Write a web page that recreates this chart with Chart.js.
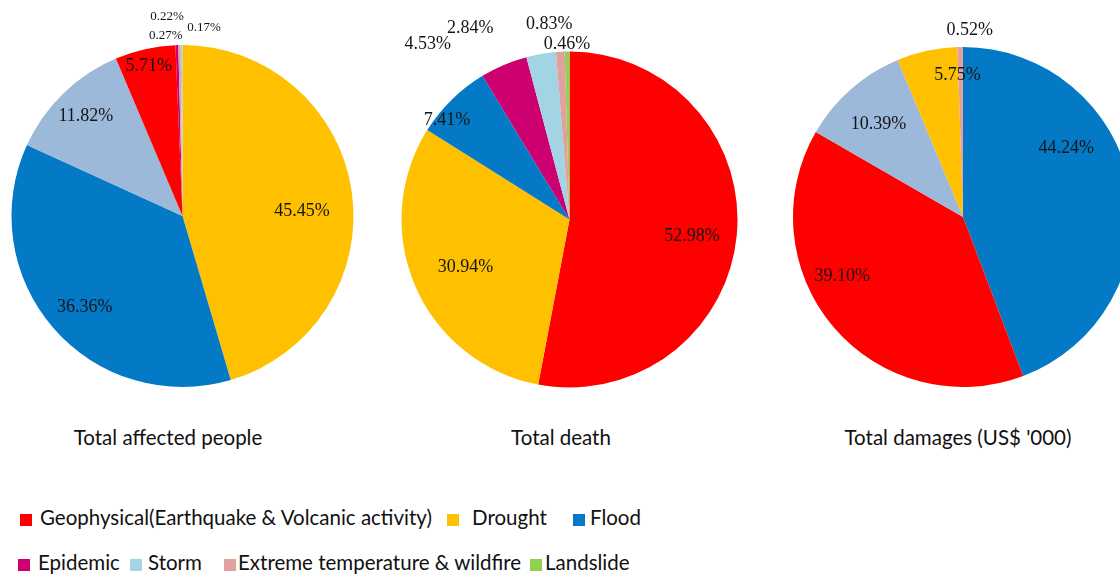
<!DOCTYPE html>
<html>
<head>
<meta charset="utf-8">
<script src="https://cdn.jsdelivr.net/npm/chart.js@4/dist/chart.umd.min.js"></script>
<style>
  html, body { margin: 0; padding: 0; background: #fff; overflow: hidden; }
  body { width: 1120px; height: 579px; position: relative; }
  .pie { position: absolute; top: 0; height: 400px; }
  .title { position: absolute; top: 425px; font: 20.5px Lato, "Open Sans", sans-serif; color: #111; transform: translateX(-50%); white-space: nowrap; }
  .lg { position: absolute; font: 20.5px Lato, "Open Sans", sans-serif; color: #111; white-space: nowrap; }
  .sw { position: absolute; width: 12px; height: 12px; }
</style>
</head>
<body>
<div class="pie" style="left:0;width:380px"><canvas id="pie1"></canvas></div>
<div class="pie" style="left:380px;width:380px"><canvas id="pie2"></canvas></div>
<div class="pie" style="left:760px;width:420px"><canvas id="pie3"></canvas></div>
<div class="title" style="left:168px">Total affected people</div>
<div class="title" style="left:561px">Total death</div>
<div class="title" style="left:958px">Total damages (US$ '000)</div>
<div id="legend"></div>
<script>
// shares (%) clockwise from 12 o'clock
const affectedLabels = ['Drought', 'Flood', 'Storm', 'Geophysical', 'Epidemic', 'Extreme temperature & wildfire', 'Landslide'];
const affectedValues = [45.45, 36.36, 11.82, 5.71, 0.27, 0.22, 0.17];

const deathLabels = ['Geophysical', 'Drought', 'Flood', 'Epidemic', 'Storm', 'Extreme temperature & wildfire', 'Landslide'];
const deathValues = [52.98, 30.94, 7.41, 4.53, 2.84, 0.83, 0.46];

const damageLabels = ['Flood', 'Geophysical', 'Storm', 'Drought', 'Extreme temperature & wildfire'];
const damageValues = [44.24, 39.10, 10.39, 5.75, 0.52];

const legendLabels = ['Geophysical(Earthquake & Volcanic activity)', 'Drought', 'Flood',
  'Epidemic', 'Storm', 'Extreme temperature & wildfire', 'Landslide'];

const RED = '#FF0000', YEL = '#FFC000', BLU = '#0479C6', STEEL = '#9CB9DA',
  MAG = '#CC0070', CYAN = '#A3D4E4', PINK = '#E3A0A0', GRN = '#92D050';

const affectedColors = [YEL, BLU, STEEL, RED, MAG, PINK, CYAN];
const deathColors = [RED, YEL, BLU, MAG, CYAN, PINK, GRN];
const damageColors = [BLU, RED, STEEL, YEL, PINK];
const legendColors = [RED, YEL, BLU, MAG, CYAN, PINK, GRN];

// label placement: [radius fraction, angle shift in degrees] relative to slice middle
const affectedPlace = [[0.70, 6], [0.78, -2], [0.81, 0], [0.9, 0], [1.06, -3.4], [1.17, -3.4], [1.11, 6.8]];
const deathPlace = [[0.735, 2.3], [0.68, -1], [0.94, -6.4], [1.34, -16], [1.28, -17.7], [1.17, -2.8], [1.045, 0]];
const damagePlace = [[0.73, -23.4], [0.79, 14.3], [0.74, -1], [0.835, 10], [1.1, 3]];

const pctLabels = {
  id: 'pctLabels',
  afterDatasetsDraw(chart, args, opts) {
    const ctx = chart.ctx;
    const meta = chart.getDatasetMeta(0);
    const vals = chart.data.datasets[0].data;
    ctx.save();
    ctx.fillStyle = '#141414';
    ctx.textAlign = 'center';
    ctx.textBaseline = 'middle';
    meta.data.forEach((arc, i) => {
      const p = opts.place[i];
      const mid = (arc.startAngle + arc.endAngle) / 2 + p[1] * Math.PI / 180;
      const r = arc.outerRadius * p[0];
      const x = arc.x + Math.cos(mid) * r;
      const y = arc.y + Math.sin(mid) * r;
      const size = (opts.small && vals[i] < 1) ? 13 : 18;
      ctx.font = size + 'px "Liberation Serif", "DejaVu Serif", serif';
      ctx.fillText(vals[i].toFixed(2) + '%', x, y);
    });
    ctx.restore();
  }
};

function makePie(id, labels, values, colors, place, pad, small) {
  const cv = document.getElementById(id);
  new Chart(cv, {
    type: 'pie',
    data: { labels, datasets: [{ data: values, backgroundColor: colors, borderWidth: 0 }] },
    options: {
      responsive: false,
      animation: false,
      layout: { padding: pad },
      plugins: { legend: { display: false }, tooltip: { enabled: false }, pctLabels: { place, small } }
    },
    plugins: [pctLabels]
  });
}

function sizeCanvas(id, w, h) {
  const cv = document.getElementById(id);
  cv.width = w; cv.height = h;
  cv.style.width = w + 'px'; cv.style.height = h + 'px';
}
sizeCanvas('pie1', 380, 400);
sizeCanvas('pie2', 380, 400);
sizeCanvas('pie3', 420, 400);

makePie('pie1', affectedLabels, affectedValues, affectedColors, affectedPlace,
  { left: 11.5, right: 26.5, top: 45, bottom: 13 }, true);
makePie('pie2', deathLabels, deathValues, deathColors, deathPlace,
  { left: 21.5, right: 22.5, top: 51.5, bottom: 12.5 }, false);
makePie('pie3', damageLabels, damageValues, damageColors, damagePlace,
  { left: 33, right: 47, top: 47, bottom: 13 }, false);

// legend layout: [square x, text x, row y]
const legendPos = [[20, 40, 519], [447, 472, 519], [573, 590, 519],
  [18, 38, 564], [130, 148, 564], [224, 238, 564], [530, 545, 564]];
const lg = document.getElementById('legend');
legendLabels.forEach((t, i) => {
  const [sx, tx, y] = legendPos[i];
  const sw = document.createElement('div');
  sw.className = 'sw';
  sw.style.left = sx + 'px';
  sw.style.top = (y - 5) + 'px';
  sw.style.background = legendColors[i];
  lg.appendChild(sw);
  const tl = document.createElement('div');
  tl.className = 'lg';
  tl.style.left = tx + 'px';
  tl.style.top = (y - 14) + 'px';
  tl.textContent = t;
  lg.appendChild(tl);
});
</script>
</body>
</html>
